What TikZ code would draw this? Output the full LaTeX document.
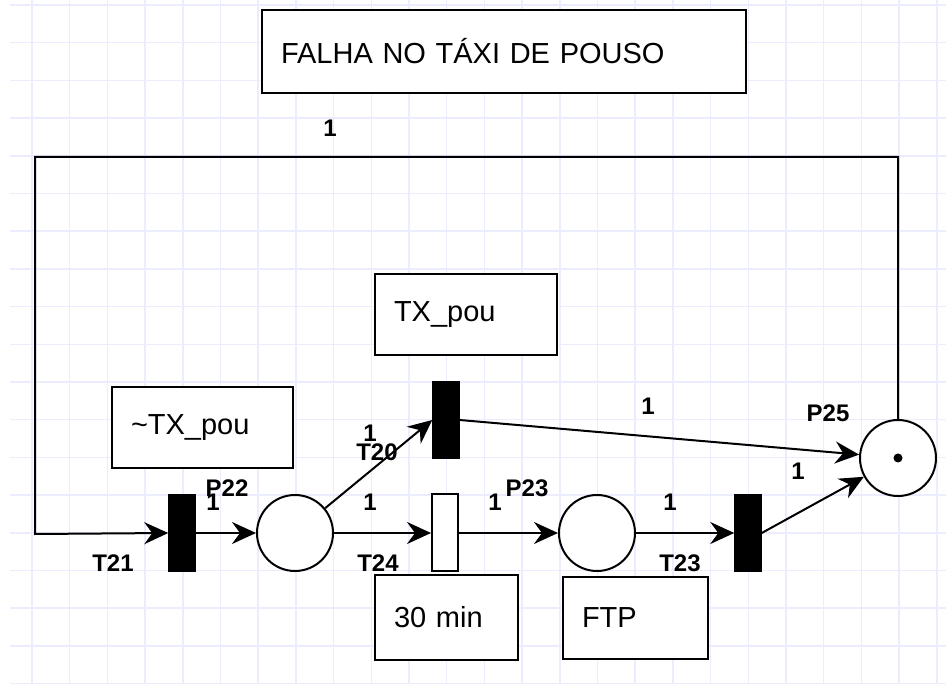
\documentclass[tikz,border=0pt]{standalone}
\usepackage{fontspec}
\setmainfont{Liberation Sans}
\usetikzlibrary{arrows.meta}
\definecolor{gridc}{RGB}{236,236,255}
\tikzset{
  place/.style={draw, circle, line width=2pt, fill=white, minimum size=76pt,
                inner sep=0pt},
  trans/.style={draw, line width=1.5pt, fill=#1, minimum width=26pt,
                minimum height=77pt, inner sep=0pt},
  trans/.default=black,
  txtbox/.style={draw, line width=2pt, fill=white, align=left, inner xsep=19pt,
                 font=\fontsize{29}{34}\selectfont},
  wt/.style={font=\bfseries\fontsize{24}{28}\selectfont, inner sep=0pt},
  arc/.style={-{Stealth[length=24pt, width=22pt, inset=8pt]}, line width=2pt},
}

\begin{document}
\begin{tikzpicture}[x=1pt, y=-1pt]
  \useasboundingbox (0,0) rectangle (946,684);
  % grid
  \foreach \i in {0,...,24} \draw[gridc, line width=1.5pt]
    (32+37.7*\i,0) -- (32+37.7*\i,684);
  \foreach \j in {0,...,18} \draw[gridc, line width=1.5pt]
    (10,5+37.7*\j) -- (946,5+37.7*\j);

  % texts in boxes
  \node[txtbox, text width=446pt, minimum height=83pt] (title) at (504,51.5)
    {FALHA NO TÁXI DE POUSO};
  \node[txtbox, text width=143pt, minimum height=81pt] (ntx) at (202.5,427.5)
    {\textasciitilde TX\_pou};
  \node[txtbox, text width=144pt, minimum height=81pt] (tx) at (466,314.5)
    {TX\_pou};
  \node[txtbox, text width=105pt, minimum height=85pt] (dur) at (446.5,617.5)
    {30 min};
  \node[txtbox, text width=107pt, minimum height=82pt] (ftp) at (635.5,618)
    {FTP};

  % places and transitions
  \node[place] (P22) at (295,533) {};
  \node[place] (P23) at (597,533) {};
  \node[place] (P25) at (898,458) {};
  \fill (P25) circle (4.5pt);
  \node[trans] (T21) at (182,533) {};
  \node[trans] (T20) at (446,420) {};
  \node[trans=white, line width=2pt] (T24) at (445,533) {};
  \node[trans] (T23) at (748,533) {};

  % arcs
  \coordinate (lpR) at (898,157);
  \coordinate (lpL) at (35,157);
  \coordinate (lpB) at (35,534);
  \draw[arc] (P25.north) -- (lpR) -- (lpL) -- (lpB) -- (T21.west);
  \draw[arc] (T21.east) -- (P22.west);
  \draw[arc] (P22) -- (T20.west);
  \draw[arc] (P22.east) -- (T24.west);
  \draw[arc] (T20.east) -- (P25);
  \draw[arc] (T24.east) -- (P23.west);
  \draw[arc] (P23.east) -- (T23.west);
  \draw[arc] (T23.east) -- (P25);

  % weights and names
  \node[wt] (w1) at (330,128) {1};
  \node[wt] (lT21) at (113,563) {T21};
  \node[wt] (lP22) at (227,488) {P22};
  \node[wt] (w2) at (213,502) {1};
  \node[wt] (w3) at (370,433) {1};
  \node[wt] (lT20) at (377,452) {T20};
  \node[wt] (w4) at (370,502) {1};
  \node[wt] (lT24) at (378,563) {T24};
  \node[wt] (w5) at (495,502) {1};
  \node[wt] (lP23) at (527,488) {P23};
  \node[wt] (w6) at (648,406) {1};
  \node[wt] (w7) at (670,502) {1};
  \node[wt] (lT23) at (680,563) {T23};
  \node[wt] (w8) at (798,471) {1};
  \node[wt] (lP25) at (828,413) {P25};
\end{tikzpicture}
\end{document}
